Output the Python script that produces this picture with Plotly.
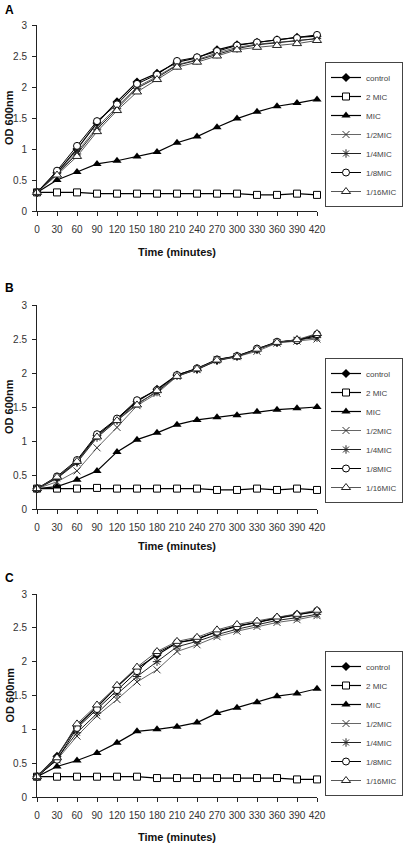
import plotly.graph_objects as go

time_min = [0, 30, 60, 90, 120, 150, 180, 210, 240, 270, 300, 330, 360, 390, 420]
series_names = ["control", "2 MIC", "MIC", "1/2MIC", "1/4MIC", "1/8MIC", "1/16MIC"]

# Panel A
a_control = [0.3, 0.62, 1.00, 1.42, 1.76, 2.08, 2.22, 2.40, 2.47, 2.60, 2.68, 2.72, 2.76, 2.80, 2.82]
a_2mic = [0.3, 0.30, 0.30, 0.28, 0.28, 0.28, 0.28, 0.28, 0.28, 0.28, 0.28, 0.26, 0.26, 0.28, 0.26]
a_mic = [0.3, 0.50, 0.63, 0.76, 0.81, 0.88, 0.95, 1.10, 1.20, 1.35, 1.49, 1.60, 1.69, 1.74, 1.80]
a_half = [0.3, 0.60, 0.95, 1.35, 1.68, 2.00, 2.17, 2.36, 2.44, 2.55, 2.64, 2.69, 2.72, 2.75, 2.78]
a_quarter = [0.3, 0.60, 0.92, 1.32, 1.65, 1.98, 2.15, 2.35, 2.43, 2.53, 2.62, 2.68, 2.71, 2.74, 2.78]
a_eighth = [0.3, 0.65, 1.05, 1.45, 1.72, 2.05, 2.20, 2.42, 2.48, 2.58, 2.67, 2.72, 2.76, 2.79, 2.84]
a_sixteenth = [0.3, 0.58, 0.88, 1.28, 1.62, 1.92, 2.12, 2.32, 2.40, 2.50, 2.60, 2.64, 2.67, 2.70, 2.75]

# Panel B
b_control = [0.3, 0.46, 0.70, 1.08, 1.32, 1.58, 1.76, 1.97, 2.06, 2.19, 2.25, 2.35, 2.45, 2.48, 2.55]
b_2mic = [0.3, 0.30, 0.30, 0.31, 0.30, 0.30, 0.30, 0.30, 0.30, 0.28, 0.28, 0.30, 0.28, 0.30, 0.28]
b_mic = [0.3, 0.33, 0.43, 0.56, 0.84, 1.02, 1.12, 1.24, 1.31, 1.35, 1.38, 1.43, 1.46, 1.48, 1.50]
b_half = [0.3, 0.40, 0.56, 0.90, 1.20, 1.52, 1.70, 1.95, 2.05, 2.20, 2.24, 2.32, 2.44, 2.47, 2.50]
b_quarter = [0.3, 0.45, 0.68, 1.05, 1.30, 1.55, 1.72, 1.96, 2.05, 2.18, 2.24, 2.34, 2.45, 2.49, 2.52]
b_eighth = [0.3, 0.48, 0.72, 1.10, 1.33, 1.60, 1.75, 1.97, 2.07, 2.20, 2.25, 2.36, 2.46, 2.48, 2.57]
b_sixteenth = [0.3, 0.47, 0.70, 1.06, 1.30, 1.53, 1.74, 1.95, 2.06, 2.19, 2.24, 2.35, 2.45, 2.49, 2.58]

# Panel C
c_control = [0.3, 0.60, 1.05, 1.33, 1.63, 1.90, 2.10, 2.28, 2.33, 2.45, 2.53, 2.58, 2.65, 2.70, 2.74]
c_2mic = [0.3, 0.30, 0.30, 0.30, 0.30, 0.30, 0.28, 0.28, 0.28, 0.28, 0.28, 0.28, 0.28, 0.26, 0.26]
c_mic = [0.3, 0.45, 0.54, 0.65, 0.80, 0.97, 1.00, 1.04, 1.10, 1.24, 1.32, 1.40, 1.49, 1.53, 1.60]
c_half = [0.3, 0.55, 0.90, 1.20, 1.44, 1.70, 1.88, 2.15, 2.25, 2.37, 2.45, 2.52, 2.58, 2.62, 2.68]
c_quarter = [0.3, 0.57, 0.95, 1.24, 1.52, 1.78, 2.00, 2.22, 2.30, 2.40, 2.48, 2.55, 2.61, 2.65, 2.70]
c_eighth = [0.3, 0.55, 1.02, 1.30, 1.58, 1.86, 2.13, 2.28, 2.34, 2.44, 2.52, 2.58, 2.64, 2.69, 2.75]
c_sixteenth = [0.3, 0.58, 1.08, 1.36, 1.65, 1.92, 2.15, 2.30, 2.36, 2.47, 2.55, 2.60, 2.66, 2.70, 2.76]

x_ticks = time_min
y_ticks = [0, 0.5, 1, 1.5, 2, 2.5, 3]
y_tick_text = ["0", "0.5", "1", "1.5", "2", "2.5", "3"]
panel_labels = ["A", "B", "C"]

panels = [
    [a_control, a_2mic, a_mic, a_half, a_quarter, a_eighth, a_sixteenth],
    [b_control, b_2mic, b_mic, b_half, b_quarter, b_eighth, b_sixteenth],
    [c_control, c_2mic, c_mic, c_half, c_quarter, c_eighth, c_sixteenth],
]

styles = [
    dict(symbol="diamond", color="black", size=7, lw=0, lc="black", line_color="black", width=1.2),
    dict(symbol="square", color="white", size=7, lw=1, lc="black", line_color="black", width=1.2),
    dict(symbol="triangle-up", color="black", size=8, lw=0, lc="black", line_color="black", width=1.2),
    dict(symbol="x-thin", color="black", size=7, lw=1, lc="#333", line_color="#555", width=0.9),
    dict(symbol="asterisk", color="black", size=7, lw=1, lc="#222", line_color="#222", width=1.0),
    dict(symbol="circle", color="white", size=7, lw=1, lc="black", line_color="black", width=1.0),
    dict(symbol="triangle-up", color="white", size=8, lw=1, lc="#222", line_color="#444", width=0.9),
]

W, H = 404, 849
x0, x1 = 37, 317
panel_px = [(25, 211), (305, 509), (594, 797)]
legend_tops = [62, 358, 651]
title_y = [252, 546, 837]
label_y = [10, 288, 578]

def py(p):
    return 1 - p / H

fig = go.Figure()
tick_font = dict(family="Liberation Sans Narrow, Arial Narrow, Liberation Sans, Arial, sans-serif", size=10, color="#333")
title_font = dict(family="Liberation Sans, Arial, sans-serif", size=11, color="#111")

for i, (data, (top, bot)) in enumerate(zip(panels, panel_px)):
    sfx = "" if i == 0 else str(i + 1)
    leg = "legend" + sfx
    for name, vals, st in zip(series_names, data, styles):
        fig.add_trace(go.Scatter(
            x=time_min, y=vals, name=name, mode="lines+markers",
            xaxis="x" + sfx, yaxis="y" + sfx, legend=leg,
            line=dict(color=st["line_color"], width=st["width"]),
            marker=dict(symbol=st["symbol"], color=st["color"], size=st["size"],
                        line=dict(width=st["lw"], color=st["lc"])),
            cliponaxis=False,
        ))
    fig.layout["xaxis" + sfx] = dict(
        domain=[x0 / W, x1 / W], anchor="y" + sfx, range=[0, 420], automargin=False,
        tickmode="array", tickvals=x_ticks, ticktext=[str(t) for t in x_ticks],
        showline=True, linecolor="#222", linewidth=1, ticks="outside", ticklen=4,
        tickcolor="#222", showgrid=False, zeroline=False, tickfont=tick_font,
        ticklabelstandoff=5, fixedrange=True,
    )
    fig.layout["yaxis" + sfx] = dict(
        domain=[py(bot), py(top)], anchor="x" + sfx, range=[0, 3], automargin=False,
        tickmode="array", tickvals=y_ticks, ticktext=y_tick_text,
        showline=True, linecolor="#222", linewidth=1, ticks="outside", ticklen=4,
        tickcolor="#222", showgrid=False, zeroline=False, tickfont=tick_font,
        ticklabelstandoff=3, fixedrange=True,
    )
    fig.layout[leg] = dict(
        x=403 / W, xanchor="right", y=py(legend_tops[i]), yanchor="top",
        bordercolor="#444", borderwidth=1, bgcolor="white",
        font=dict(family="Liberation Sans Narrow, Arial Narrow, Liberation Sans, Arial, sans-serif", size=8, color="#444"),
        tracegroupgap=0, itemwidth=30,
    )
    fig.add_annotation(text="<b>Time (minutes)</b>", x=(x0 + x1) / 2 / W, y=py(title_y[i]),
                       xref="paper", yref="paper", showarrow=False, font=title_font,
                       xanchor="center", yanchor="middle")
    fig.add_annotation(text="<b>OD 600nm</b>", x=9 / W, y=py((top + bot) / 2), textangle=-90,
                       xref="paper", yref="paper", showarrow=False, font=title_font,
                       xanchor="center", yanchor="middle")
    fig.add_annotation(text="<b>" + panel_labels[i] + "</b>", x=3 / W, y=py(label_y[i]),
                       xref="paper", yref="paper", showarrow=False,
                       font=dict(family="Liberation Sans, Arial, sans-serif", size=12, color="black"),
                       xanchor="left", yanchor="middle")

fig.update_layout(
    template="none",
    width=W, height=H, margin=dict(l=0, r=0, t=0, b=0, autoexpand=False),
    plot_bgcolor="white", paper_bgcolor="white", showlegend=True,
)

fig.write_html(
    "out.html",
    config={"displayModeBar": False},
    post_script="document.body.style.margin='0';document.body.style.padding='0';document.body.style.overflow='hidden';",
)
